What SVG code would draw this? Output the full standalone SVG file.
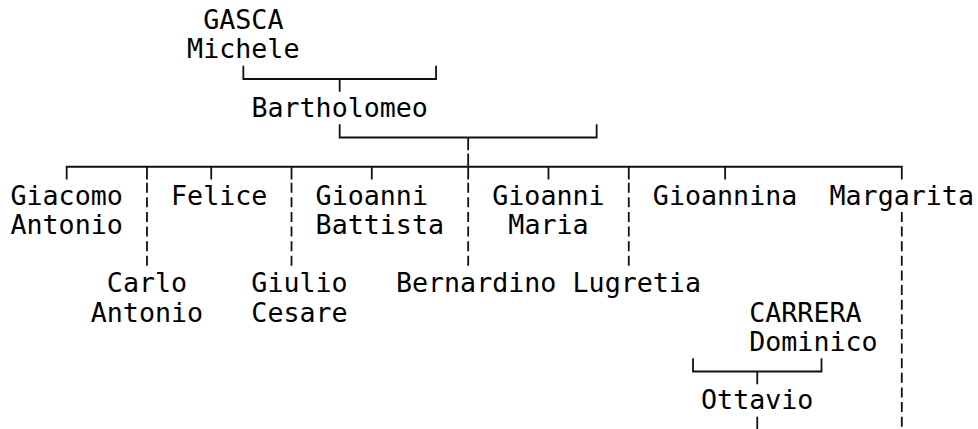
<svg xmlns="http://www.w3.org/2000/svg" width="978" height="429" viewBox="0 0 978 429">
<style>
  text { font-family: "DejaVu Sans Mono", "Liberation Mono", monospace; font-size: 26.67px; fill: #000; }
  .ln { fill: none; stroke: #111; stroke-width: 1.8; stroke-linecap: butt; stroke-linejoin: miter; }
  .dash { fill: none; stroke: #111; stroke-width: 1.8; stroke-dasharray: 10 4.625; }
</style>
<rect x="0" y="0" width="978" height="429" fill="#fff"/>
<g id="connectors">
  <path class="ln" d="M243.34,65.7 V79 H436.06 V65.7 M339.7,79 V91.7"/>
  <path class="ln" d="M339.7,124.2 V137.5 H596.66 V124.2 M468.18,137.5 V150.2"/>
  <path class="ln" d="M66.68,179.45 V166.75 H901.8 V179.45 M146.98,166.75 V179.45 M211.22,166.75 V179.45 M291.52,166.75 V179.45 M371.82,166.75 V179.45 M468.18,153.45 V179.45 M548.48,166.75 V179.45 M628.78,166.75 V179.45 M725.14,166.75 V179.45"/>
  <path class="dash" d="M146.98,182.7 V267.2 M291.52,182.7 V267.2 M468.18,182.7 V267.2 M628.78,182.7 V267.2 M901.8,211.95 V429"/>
  <path class="ln" d="M693.02,358.2 V371.5 H821.5 V358.2 M757.26,371.5 V384.2"/>
  <path class="ln" d="M757.26,416.7 V429"/>
</g>
<g id="gasca_michele"><text x="203.2" y="29">GASCA</text><text x="187.1" y="58.25">Michele</text></g>
<g id="bartholomeo"><text x="251.4" y="116.75">Bartholomeo</text></g>
<g id="giacomo_antonio"><text x="10.47" y="204.5">Giacomo</text><text x="10.47" y="233.75">Antonio</text></g>
<g id="felice"><text x="171.07" y="204.5">Felice</text></g>
<g id="gioanni_battista"><text x="315.6" y="204.5">Gioanni</text><text x="315.6" y="233.75">Battista</text></g>
<g id="gioanni_maria"><text x="492.27" y="204.5">Gioanni</text><text x="508.33" y="233.75">Maria</text></g>
<g id="gioannina"><text x="652.87" y="204.5">Gioannina</text></g>
<g id="margarita"><text x="829.53" y="204.5">Margarita</text></g>
<g id="carlo_antonio"><text x="106.83" y="292.25">Carlo</text><text x="90.77" y="321.5">Antonio</text></g>
<g id="giulio_cesare"><text x="251.37" y="292.25">Giulio</text><text x="251.37" y="321.5">Cesare</text></g>
<g id="bernardino"><text x="395.91" y="292.25">Bernardino</text></g>
<g id="lugretia"><text x="572.57" y="292.25">Lugretia</text></g>
<g id="carrera_dominico"><text x="749.23" y="321.5">CARRERA</text><text x="749.23" y="350.75">Dominico</text></g>
<g id="ottavio"><text x="701.05" y="409.25">Ottavio</text></g>
</svg>
